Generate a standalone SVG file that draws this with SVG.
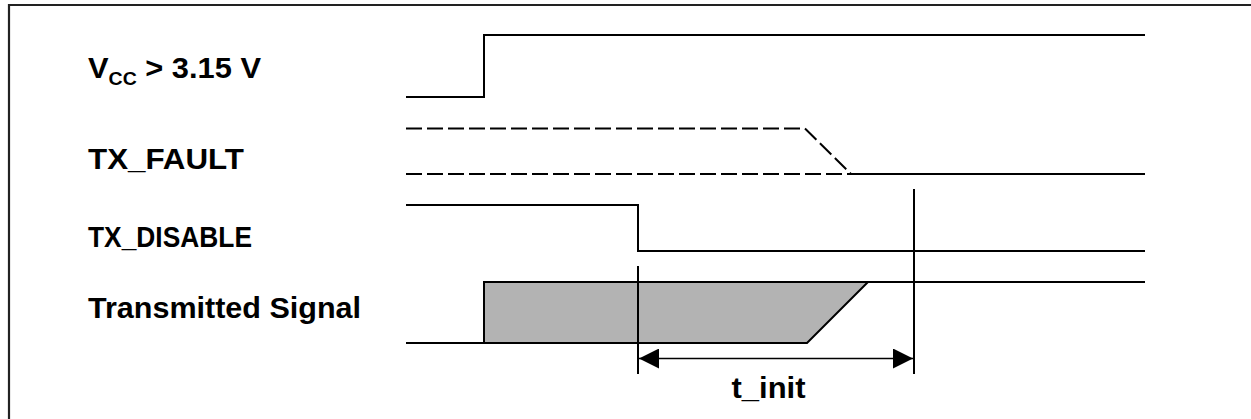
<svg xmlns="http://www.w3.org/2000/svg" width="1251" height="419" viewBox="0 0 1251 419">
<style>
.lbl{font-family:"Liberation Sans",Arial,sans-serif;font-weight:bold;font-size:30px;fill:#000}
.sig{fill:none;stroke:#000;stroke-width:2}
.dash{fill:none;stroke:#000;stroke-width:2;stroke-dasharray:16 5}
.thin{fill:none;stroke:#000;stroke-width:1.6}
</style>
<defs>
<marker id="ah" viewBox="0 0 20 20" refX="20" refY="10" markerWidth="20" markerHeight="20" markerUnits="userSpaceOnUse" orient="auto-start-reverse">
<path d="M0,0 L20,10 L0,20 Z" fill="#000"/>
</marker>
</defs>
<rect width="1251" height="419" fill="#fff"/>
<path d="M9,419 V5 H1251" fill="none" stroke="#222" stroke-width="2.2"/>

<g id="vcc">
<text class="lbl" x="88" y="78" textLength="173" lengthAdjust="spacingAndGlyphs">V<tspan font-size="19" dy="7">CC</tspan><tspan dy="-7"> &gt; 3.15 V</tspan></text>
<path class="sig" d="M406,97 H484 V35 H1145"/>
</g>

<g id="tx_fault">
<text class="lbl" x="88" y="169" textLength="156" lengthAdjust="spacingAndGlyphs">TX_FAULT</text>
<path class="dash" d="M406,128.5 H805 L851,174"/>
<path class="dash" d="M406,174 H851"/>
<path class="sig" d="M851,174 H1145"/>
</g>

<g id="tx_disable">
<text class="lbl" x="88" y="247" textLength="164" lengthAdjust="spacingAndGlyphs">TX_DISABLE</text>
<path class="sig" d="M406,205 H638 V251 H1145"/>
</g>

<g id="transmitted_signal">
<text class="lbl" x="88" y="318" textLength="273" lengthAdjust="spacingAndGlyphs">Transmitted Signal</text>
<polygon points="484,343 484,282 868,282 807,343" fill="#b3b3b3" stroke="#000" stroke-width="2"/>
<path class="sig" d="M406,343 H484 M868,282 H1145"/>
</g>

<g id="connectors">
<line class="sig" x1="638" y1="266" x2="638" y2="374"/>
<line class="sig" x1="914" y1="189" x2="914" y2="374"/>
<line class="thin" x1="639" y1="358.5" x2="913" y2="358.5" marker-start="url(#ah)" marker-end="url(#ah)"/>
</g>

<g id="t_init">
<text class="lbl" x="731.5" y="398" textLength="74" lengthAdjust="spacingAndGlyphs">t_init</text>
</g>
</svg>
